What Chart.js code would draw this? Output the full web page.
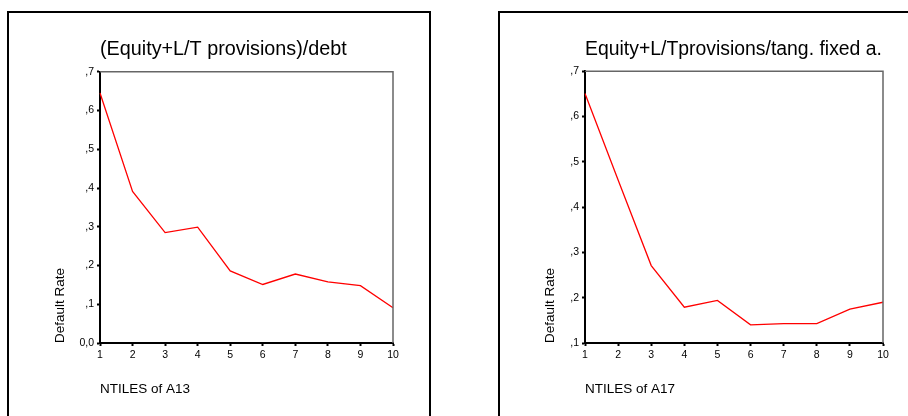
<!DOCTYPE html>
<html>
<head>
<meta charset="utf-8">
<script src="https://cdn.jsdelivr.net/npm/chart.js@4/dist/chart.umd.min.js"></script>
<style>
  html, body { margin: 0; padding: 0; background: #fff; }
  body { width: 908px; height: 416px; position: relative; overflow: hidden; }
  .panel { position: absolute; top: 11px; width: 420px; height: 420px; border: 2px solid #000; border-bottom: none; }
  #panelA13 { left: 7px; }
  #panelA17 { left: 498px; }
  canvas { position: absolute; top: 0; }
  #chartA13 { left: 0; }
  #chartA17 { left: 454px; }
</style>
</head>
<body>
<div class="panel" id="panelA13"></div>
<div class="panel" id="panelA17"></div>
<canvas id="chartA13" width="454" height="416"></canvas>
<canvas id="chartA17" width="454" height="416"></canvas>
<script>
const ntiles = ['1', '2', '3', '4', '5', '6', '7', '8', '9', '10'];

// default rate per decile
const rateA13 = [0.645, 0.391, 0.285, 0.299, 0.186, 0.151, 0.178, 0.158, 0.148, 0.091];
const rateA17 = [0.651, 0.460, 0.271, 0.179, 0.194, 0.140, 0.143, 0.143, 0.175, 0.190];

const titleA13 = '(Equity+L/T provisions)/debt';
const titleA17 = 'Equity+L/Tprovisions/tang. fixed a.';
const xTitleA13 = 'NTILES of A13';
const xTitleA17 = 'NTILES of A17';
const yTitle = 'Default Rate';

const FONT = "'Liberation Sans', Arial, sans-serif";

// thin grey line along the top and right of the plot box
const frame = {
  id: 'frame',
  afterDraw(chart){
    const {ctx, chartArea: a} = chart;
    ctx.save();
    ctx.strokeStyle = '#666';
    ctx.lineWidth = 1.5;
    ctx.beginPath();
    ctx.moveTo(a.left, a.top);
    ctx.lineTo(a.right, a.top);
    ctx.lineTo(a.right, a.bottom);
    ctx.stroke();
    ctx.restore();
  }
};

function decimalTick(v){
  const d = Math.round(v * 10);
  return d === 0 ? '0,0' : ',' + d;
}

function makeChart(id, cfg){
  const ctx = document.getElementById(id).getContext('2d');
  return new Chart(ctx, {
    type: 'line',
    data: {
      labels: ntiles,
      datasets: [{
        data: cfg.data,
        borderColor: '#ff0000',
        borderWidth: 1.3,
        pointRadius: 0,
        tension: 0,
        fill: false
      }]
    },
    plugins: [frame],
    options: {
      responsive: false,
      animation: false,
      layout: { padding: { left: 0, top: 0, bottom: 0, right: cfg.padRight } },
      plugins: {
        legend: { display: false },
        tooltip: { enabled: false },
        title: {
          display: true,
          text: cfg.title,
          align: 'start',
          fullSize: false,
          color: '#000',
          font: { family: FONT, size: cfg.titleSize, weight: 'normal', lineHeight: 1.2 },
          padding: { top: 38, bottom: 10 }
        }
      },
      scales: {
        x: {
          offset: false,
          afterFit(scale){ scale.height = 73; },
          border: { color: '#000', width: 2 },
          grid: { drawOnChartArea: false, drawTicks: true, tickLength: 3, tickWidth: 2, tickColor: '#000', offset: false },
          ticks: { color: '#000', padding: 3, maxRotation: 0, autoSkip: false, font: { family: FONT, size: 10.5 } },
          title: {
            display: true,
            text: cfg.xTitle,
            align: 'start',
            color: '#000',
            font: { family: FONT, size: 13.5 },
            padding: { top: 0, bottom: 18.9 }
          }
        },
        y: {
          min: cfg.yMin,
          max: 0.7,
          afterFit(scale){ scale.width = cfg.yWidth; },
          border: { color: '#000', width: 2 },
          grid: { drawOnChartArea: false, drawTicks: true, tickLength: 3, tickWidth: 2, tickColor: '#000' },
          ticks: {
            stepSize: 0.1,
            color: '#000',
            padding: 3,
            font: { family: FONT, size: 10.5 },
            callback: decimalTick
          },
          title: {
            display: true,
            text: yTitle,
            align: 'start',
            color: '#000',
            font: { family: FONT, size: 13.5 },
            padding: { top: cfg.yTitlePad, bottom: 0 }
          }
        }
      }
    }
  });
}

document.addEventListener('DOMContentLoaded', function(){
  makeChart('chartA13', {
    data: rateA13,
    title: titleA13,
    titleSize: 19.8,
    xTitle: xTitleA13,
    yMin: 0,
    yWidth: 100,
    yTitlePad: 52.4,
    padRight: 61
  });

  makeChart('chartA17', {
    data: rateA17,
    title: titleA17,
    titleSize: 19.4,
    xTitle: xTitleA17,
    yMin: 0.1,
    yWidth: 131,
    yTitlePad: 88.4,
    padRight: 25
  });
});
</script>
</body>
</html>
